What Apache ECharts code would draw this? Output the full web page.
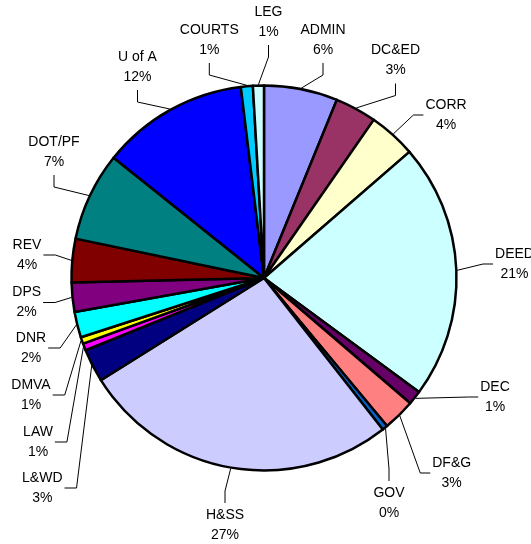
<!DOCTYPE html>
<html>
<head>
<meta charset="utf-8">
<script src="https://cdn.jsdelivr.net/npm/echarts@6/dist/echarts.min.js"></script>
<style>
html,body{margin:0;padding:0;background:#fff;}
#chart{width:531px;height:544px;}
</style>
</head>
<body>
<div id="chart"></div>
<script>
// Categories, clockwise from 12 o'clock
var categories = ['ADMIN','DC&ED','CORR','DEED','DEC','DF&G','GOV','H&SS','L&WD','LAW','DMVA','DNR','DPS','REV','DOT/PF','U of A','COURTS','LEG'];
// Share values (percent of total)
var values = [6.17, 3.47, 3.97, 21.44, 1.17, 2.69, 0.45, 26.64, 2.78, 0.58, 0.56, 2.15, 2.45, 3.65, 7.44, 12.33, 1.0, 0.92];
// Slice colours (classic spreadsheet palette)
var colors = ['#9999FF','#993366','#FFFFCC','#CCFFFF','#660066','#FF8080','#0066CC','#CCCCFF','#000080','#FF00FF','#FFFF00','#00FFFF','#800080','#800000','#008080','#0000FF','#00CCFF','#CCFFFF'];
// Label placement (label block centre, side of label where leader attaches)
var labelPlacement = [
  [323, 40, 'b'], [395.5, 60.5, 'b'], [446, 115, 'l'], [514.5, 264, 'l'],
  [495, 397, 'l'], [451.7, 473, 'l'], [389, 503, 't'], [225, 525, 't'],
  [42.3, 488, 'r'], [38, 442, 'r'], [31, 395, 'r'], [31, 348, 'r'],
  [26.7, 302.5, 'r'], [27, 255, 'r'], [54, 152, 'b'], [137.5, 67, 'b'],
  [209.3, 40, 'b'], [268.5, 22, 'b']
];

var CX = 264, CY = 278, R = 192.5;
var total = values.reduce(function(a, b){ return a + b; }, 0);
var midAngles = [];
(function(){
  var cum = 0;
  for (var i = 0; i < values.length; i++) {
    midAngles.push((cum + values[i] / 2) / total * 2 * Math.PI);
    cum += values[i];
  }
})();

var data = categories.map(function(c, i){
  return { name: c, value: values[i], itemStyle: { color: colors[i] } };
});

var chart = echarts.init(document.getElementById('chart'), null, {renderer: 'canvas'});
chart.setOption({
  backgroundColor: '#ffffff',
  animation: false,
  series: [{
    type: 'pie',
    center: [CX, CY],
    radius: [0, R],
    startAngle: 90,
    clockwise: true,
    avoidLabelOverlap: false,
    data: data,
    itemStyle: { borderColor: '#000', borderWidth: 2.5 },
    label: {
      show: true,
      position: 'outside',
      fontFamily: 'Liberation Sans, Arial, sans-serif',
      fontSize: 14,
      lineHeight: 20,
      color: '#000',
      formatter: function(p){
        return p.name + '\n' + Math.round(p.value / total * 100) + '%';
      }
    },
    labelLine: { show: true, lineStyle: { color: '#000', width: 1 } },
    emphasis: { disabled: true },
    labelLayout: function(params){
      var i = params.dataIndex;
      var pl = labelPlacement[i];
      var cx = pl[0], cy = pl[1], side = pl[2];
      var w = params.labelRect.width;
      var a = midAngles[i];
      var anchor = [CX + (R + 1) * Math.sin(a), CY - (R + 1) * Math.cos(a)];
      var attach, elbow;
      if (side === 'b') { attach = [cx, cy + 23]; elbow = [cx, cy + 35]; }
      else if (side === 't') { attach = [cx, cy - 22]; elbow = [cx, cy - 34]; }
      else if (side === 'r') { attach = [cx + w / 2 + 2, cy]; elbow = [cx + w / 2 + 14, cy]; }
      else { attach = [cx - w / 2 - 2, cy]; elbow = [cx - w / 2 - 12, cy]; }
      return {
        x: cx, y: cy, align: 'center', verticalAlign: 'middle',
        labelLinePoints: [anchor, elbow, attach]
      };
    }
  }]
});
</script>
</body>
</html>
